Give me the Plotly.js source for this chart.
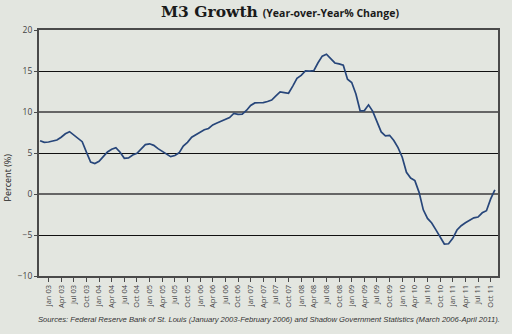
<!DOCTYPE html>
<html>
<head>
<meta charset="utf-8">
<script src="https://cdn.plot.ly/plotly-3.0.1.min.js"></script>
<style>html,body{margin:0;padding:0;background:#e3e6e0;}#chart{width:512px;height:334px;}</style>
</head>
<body>
<div id="chart"></div>
<script>
// Monthly categories, Nov 2002 through Nov 2011
const monthNames = ["Jan","Feb","Mar","Apr","May","Jun","Jul","Aug","Sep","Oct","Nov","Dec"];
const months = [];
for (let y = 2002; y <= 2011; y++) {
  for (let mi = 0; mi < 12; mi++) {
    if (y === 2002 && mi < 10) continue;
    if (y === 2011 && mi > 10) continue;
    months.push(monthNames[mi] + " " + String(y % 100).padStart(2, "0"));
  }
}

// M3 year-over-year % change
const m3Growth = [
  6.5, 6.3,
  6.34, 6.42, 6.58, 6.92, 7.35, 7.6, 7.16, 6.76, 6.38, 5.1, 3.9, 3.71,
  3.98, 4.55, 5.12, 5.45, 5.64, 5.1, 4.35, 4.41, 4.75, 4.96, 5.45, 6.02,
  6.12, 5.93, 5.53, 5.21, 4.9, 4.56, 4.69, 5.02, 5.84, 6.3, 6.93, 7.25,
  7.48, 7.83, 7.99, 8.43, 8.65, 8.87, 9.06, 9.33, 9.83, 9.71, 9.75, 10.18,
  10.8, 11.11, 11.13, 11.14, 11.28, 11.46, 11.97, 12.44, 12.37, 12.29, 13.16, 14.1,
  14.46, 15.01, 14.98, 15.04, 16.0, 16.81, 17.05, 16.57, 15.98, 15.87, 15.7, 14.0,
  13.6, 12.2, 10.15, 10.17, 10.87, 10.08, 8.7, 7.57, 7.1, 7.16, 6.53, 5.65,
  4.48, 2.64, 1.95, 1.63, 0.2, -1.93, -2.98, -3.53, -4.38, -5.23, -6.1, -6.07,
  -5.4, -4.39, -3.87, -3.51, -3.22, -2.91, -2.81, -2.29, -2.04, -0.6, 0.5
];

// Quarterly tick labels
const tickLabels = [
  "Jan 03","Apr 03","Jul 03","Oct 03","Jan 04","Apr 04","Jul 04","Oct 04",
  "Jan 05","Apr 05","Jul 05","Oct 05","Jan 06","Apr 06","Jul 06","Oct 06",
  "Jan 07","Apr 07","Jul 07","Oct 07","Jan 08","Apr 08","Jul 08","Oct 08",
  "Jan 09","Apr 09","Jul 09","Oct 09","Jan 10","Apr 10","Jul 10","Oct 10",
  "Jan 11","Apr 11","Jul 11","Oct 11"
];
const yTicks = [-10, -5, 0, 5, 10, 15, 20];
const yMajorGrid = [0, 10];

const bg = "#e3e6e0";
const frame = "#4a4a4a";

const traces = [
  {
    type: "scatter", mode: "lines",
    x: months, y: m3Growth,
    line: {color: "#27467a", width: 1.7},
    hoverinfo: "x+y", showlegend: false
  },
  {
    type: "scatter", mode: "lines", x: [], y: [], yaxis: "y2",
    showlegend: false, hoverinfo: "skip"
  }
];

const layout = {
  width: 512, height: 334,
  paper_bgcolor: bg, plot_bgcolor: bg,
  margin: {l: 39, r: 14, t: 30, b: 58},
  title: {
    text: "<b>M3 Growth</b> <span style='font-family:\"Open Sans\", sans-serif;font-size:10.5px;font-weight:bold'>(Year-over-Year% Change)</span>",
    font: {family: "DejaVu Serif, serif", size: 15.5, color: "#1a1a1a"},
    x: 0.525, xanchor: "center", xref: "paper",
    y: 1, yref: "container", yanchor: "top", pad: {t: 6}
  },
  xaxis: {
    type: "category",
    range: [-0.26, months.length - 1 + 0.74],
    tickmode: "array", tickvals: tickLabels, ticktext: tickLabels,
    tickangle: -90,
    tickfont: {family: "Open Sans, sans-serif", size: 7.5, color: "#444"},
    ticks: "outside", ticklen: 4, tickwidth: 1, tickcolor: frame,
    showgrid: false, zeroline: false,
    showline: true, linecolor: frame, linewidth: 2, mirror: true,
    fixedrange: true
  },
  yaxis: {
    range: [-10, 20],
    tickmode: "array", tickvals: yTicks,
    tickfont: {family: "Open Sans, sans-serif", size: 8.5, color: "#444"},
    ticks: "outside", ticklen: 3, tickcolor: frame,
    showgrid: true, gridcolor: "#111", gridwidth: 1,
    zeroline: false,
    showline: true, linecolor: frame, linewidth: 2, mirror: true,
    fixedrange: true
  },
  yaxis2: {
    overlaying: "y", anchor: "x", side: "left",
    range: [-10, 20],
    tickmode: "array", tickvals: yMajorGrid,
    showticklabels: false, ticks: "",
    showgrid: true, gridcolor: "#666", gridwidth: 2.8,
    zeroline: false, showline: false, fixedrange: true
  },
  annotations: [
    {
      text: "Percent (%)", textangle: -90,
      xref: "paper", yref: "paper", x: -0.068, y: 0.4,
      xanchor: "center", yanchor: "middle", showarrow: false,
      font: {family: "Open Sans, sans-serif", size: 9, color: "#222"}
    },
    {
      text: "<i>Sources: Federal Reserve Bank of St. Louis (January 2003-February 2006) and Shadow Government Statistics (March 2006-April 2011).</i>",
      xref: "paper", yref: "paper", x: 0.502, y: -0.152,
      xanchor: "center", yanchor: "top", showarrow: false,
      font: {family: "Liberation Sans, Arial, sans-serif", size: 7.65, color: "#333"}
    }
  ]
};

Plotly.newPlot("chart", traces, layout, {displayModeBar: false, staticPlot: true});
</script>
</body>
</html>
